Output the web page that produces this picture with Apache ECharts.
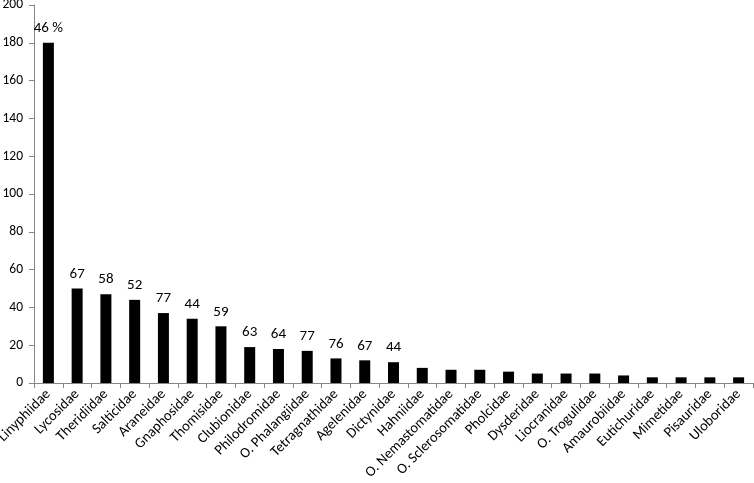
<!DOCTYPE html>
<html>
<head>
<meta charset="utf-8">
<script src="https://cdn.jsdelivr.net/npm/echarts@6/dist/echarts.min.js"></script>
<style>
html,body{margin:0;padding:0;background:#fff;}
#chart{width:754px;height:483px;}
</style>
</head>
<body>
<div id="chart"></div>
<script>
const families = ["Linyphiidae","Lycosidae","Theridiidae","Salticidae","Araneidae","Gnaphosidae","Thomisidae","Clubionidae","Philodromidae","O. Phalangiidae","Tetragnathidae","Agelenidae","Dictynidae","Hahniidae","O. Nemastomatidae","O. Sclerosomatidae","Pholcidae","Dysderidae","Liocranidae","O. Trogulidae","Amaurobiidae","Eutichuridae","Mimetidae","Pisauridae","Uloboridae"];
const counts = [180,50,47,44,37,34,30,19,18,17,13,12,11,8,7,7,6,5,5,5,4,3,3,3,3];
const barLabels = ["46 %","67","58","52","77","44","59","63","64","77","76","67","44","","","","","","","","","","","",""];
const yTicks = {min:0, max:200, interval:20};

const FONT = "Carlito, Lato, sans-serif";
const chart = echarts.init(document.getElementById('chart'), null, {renderer:'canvas'});
chart.setOption({
  animation:false,
  backgroundColor:'#ffffff',
  grid:{left:34, right:1, top:5, bottom:100, containLabel:false, outerBoundsMode:'none'},
  xAxis:{
    type:'category',
    data:families,
    axisLine:{lineStyle:{color:'#868686', width:1}},
    axisTick:{show:true, length:5, lineStyle:{color:'#868686'}},
    axisLabel:{rotate:45, margin:9, color:'#000', fontSize:14.5, fontFamily:FONT, interval:0}
  },
  yAxis:{
    type:'value',
    min:yTicks.min, max:yTicks.max, interval:yTicks.interval,
    axisLine:{show:true, lineStyle:{color:'#868686', width:1}},
    axisTick:{show:true, length:5, lineStyle:{color:'#868686'}},
    splitLine:{show:false},
    axisLabel:{color:'#000', fontSize:13.5, fontFamily:FONT, margin:11}
  },
  series:[{
    type:'bar',
    data:counts,
    barWidth:11,
    itemStyle:{color:'#000'},
    label:{
      show:true, position:'top', distance:7, color:'#000', fontSize:15, fontFamily:FONT,
      formatter:function(p){return barLabels[p.dataIndex];}
    }
  }]
});
</script>
</body>
</html>
